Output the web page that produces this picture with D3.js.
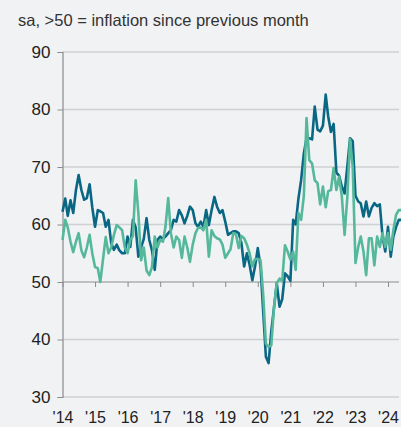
<!DOCTYPE html>
<html>
<head>
<meta charset="utf-8">
<script src="https://cdn.jsdelivr.net/npm/d3@7"></script>
<style>
  html, body { margin: 0; padding: 0; background: #f1f2f4; }
  svg { display: block; }
  .tick text { font-family: "Liberation Sans", Arial, sans-serif; }
</style>
</head>
<body>
<div id="chart"></div>
<script>

// monthly readings, first month is Jan 2014
var startMonth = "2014-01-01";

var darkSeries = [
  62.2, 64.5, 61.5, 64.2, 62, 66, 68.6, 66, 64.3, 64.6, 67, 63,
  59.6, 62.5, 62.3, 62, 59.6, 60.8, 56.8, 55.6, 56.5, 55.5, 55, 55,
  57.9, 56.1, 60.8, 59.5, 54.4, 56, 57.5, 61.1, 57.3, 55.5, 52.1, 57.3,
  57.9, 57.5, 57.9, 58.5, 59, 60.8, 60.5, 62.5, 61.6, 60.2, 61.5, 63.1,
  62.5, 60.2, 59.6, 60.5, 59.6, 62.5, 59.9, 62.5, 64.8, 63.1, 62, 62.5,
  60.5, 58.2, 58.5, 58.8, 58.8, 58.5, 56.8, 52.7, 55, 53, 50.3, 52.7,
  55.9, 52.7, 45, 37, 35.9, 41.5, 45.5, 49.8, 45.7, 47, 51.5, 51,
  50.2, 60.8, 60, 64.5, 67.7, 72.4, 75, 75, 74.8, 80.5, 76.5, 76.2,
  77.2, 82.6, 78.8, 76.1, 77.5, 69, 68.5, 66.6, 65.4, 70, 75, 74.5,
  65, 64, 63.7, 61.4, 64, 61.4, 62.9, 63.7, 63.2, 63.5, 57.9, 55.3,
  59.6, 54.4, 57.9, 59.6, 60.8, 60.8
];

var lightSeries = [
  57.3, 60.8, 59.5, 57, 55.2, 57, 58.5, 55.5, 54.3, 56, 58.2, 55,
  52.6, 52.4, 50, 54, 57.8, 55, 56, 58.2, 59.9, 59.5, 59, 56,
  55, 57.3, 58, 67.7, 62, 53.8, 56, 52, 51.2, 52.6, 57.9, 56,
  57.3, 57, 59.6, 64.6, 58.5, 56, 57.9, 57.3, 54.2, 57.9, 56, 53.5,
  56.5, 58.5, 59.4, 59.5, 59, 60.8, 54.4, 59, 58, 57.6, 57.4, 56.5,
  54.2, 55, 55.7, 58.5, 58.3, 55.9, 58, 57.6, 56.5, 55, 52.7, 54,
  54, 53.8, 48, 39.3, 38.7, 39, 45.7, 49.8, 50.6, 50.2, 56.4, 55.3,
  53.9, 55.3, 52.1, 62, 60.8, 65, 78.5, 71.2, 70.6, 67.7, 67.2, 63.5,
  66.6, 63, 65.8, 66, 69.8, 66, 68.3, 64.9, 58.2, 64.6, 74.8, 70,
  53.3, 56.1, 57.9, 55.3, 51.2, 57.6, 57.6, 52.9, 57.9, 56.1, 58.5, 56.1,
  58.5, 55.6, 59, 61.7, 62.5, 62.5
];

var yTicks = [30, 40, 50, 60, 70, 80, 90];
var tickYears = [2014, 2015, 2016, 2017, 2018, 2019, 2020, 2021, 2022, 2023, 2024];
var tickLabels = ["'14", "'15", "'16", "'17", "'18", "'19", "'20", "'21", "'22", "'23", "'24"];

var chartTitle = "sa, >50 = inflation since previous month";

var width = 401, height = 427;
var margin = {top: 52, right: 0, bottom: 30, left: 62.5};

var start = new Date(startMonth);
var months = darkSeries.map(function(d, i) { return d3.timeMonth.offset(start, i); });

var x = d3.scaleTime()
    .domain([new Date(2014, 0, 1), new Date(2024, 0, 1)])
    .range([margin.left, 388]);

var y = d3.scaleLinear()
    .domain([30, 90])
    .range([397, margin.top]);

var svg = d3.select("#chart").append("svg")
    .attr("width", width)
    .attr("height", height);

svg.append("rect")
    .attr("width", width)
    .attr("height", height)
    .attr("fill", "#f1f2f4");

// title
svg.append("text")
    .attr("x", 18)
    .attr("y", 26)
    .style("font-family", "'Liberation Sans', Arial, sans-serif")
    .style("font-size", "16.5px")
    .attr("fill", "#333")
    .text(chartTitle);

// gridlines
svg.append("g")
    .selectAll("line")
    .data(yTicks.filter(function(d) { return d !== 50; }))
  .enter().append("line")
    .attr("x1", margin.left)
    .attr("x2", 399)
    .attr("y1", function(d) { return y(d); })
    .attr("y2", function(d) { return y(d); })
    .attr("stroke", "#cfd0d2")
    .attr("stroke-width", 1.5);

// y axis
var yAxis = d3.axisLeft(y)
    .tickValues(yTicks)
    .tickSize(5)
    .tickPadding(7);

var gy = svg.append("g")
    .attr("transform", "translate(" + margin.left + ",0)")
    .call(yAxis);
gy.select(".domain").attr("stroke", "#8a8b8d").attr("stroke-width", 1.2);
gy.selectAll(".tick line").attr("stroke", "#8a8b8d");
gy.selectAll(".tick text")
    .style("font-size", "17px")
    .attr("fill", "#222");

// x axis sits on the 50 line, labels at the bottom
var xAxis = d3.axisBottom(x)
    .tickValues(tickYears.map(function(yr) { return new Date(yr, 0, 1); }))
    .tickSize(5)
    .tickSizeOuter(0)
    .tickFormat(function(d, i) { return tickLabels[i]; });

var gx = svg.append("g")
    .attr("transform", "translate(0," + y(50) + ")")
    .call(xAxis);
gx.select(".domain")
    .attr("d", "M" + margin.left + ",0H399")
    .attr("stroke", "#8a8b8d")
    .attr("stroke-width", 1.2);
gx.selectAll(".tick line").attr("stroke", "#8a8b8d");
gx.selectAll(".tick text")
    .attr("y", height - 4 - y(50))
    .attr("dy", "0")
    .style("font-size", "16px")
    .attr("fill", "#222");

var line = d3.line()
    .x(function(d, i) { return x(months[i]); })
    .y(function(d) { return y(d); });

svg.append("path")
    .datum(darkSeries)
    .attr("fill", "none")
    .attr("stroke", "#0a6784")
    .attr("stroke-width", 2.6)
    .attr("stroke-linejoin", "round")
    .attr("d", line);

svg.append("path")
    .datum(lightSeries)
    .attr("fill", "none")
    .attr("stroke", "#55b89b")
    .attr("stroke-width", 2.6)
    .attr("stroke-linejoin", "round")
    .attr("d", line);

</script>
</body>
</html>
